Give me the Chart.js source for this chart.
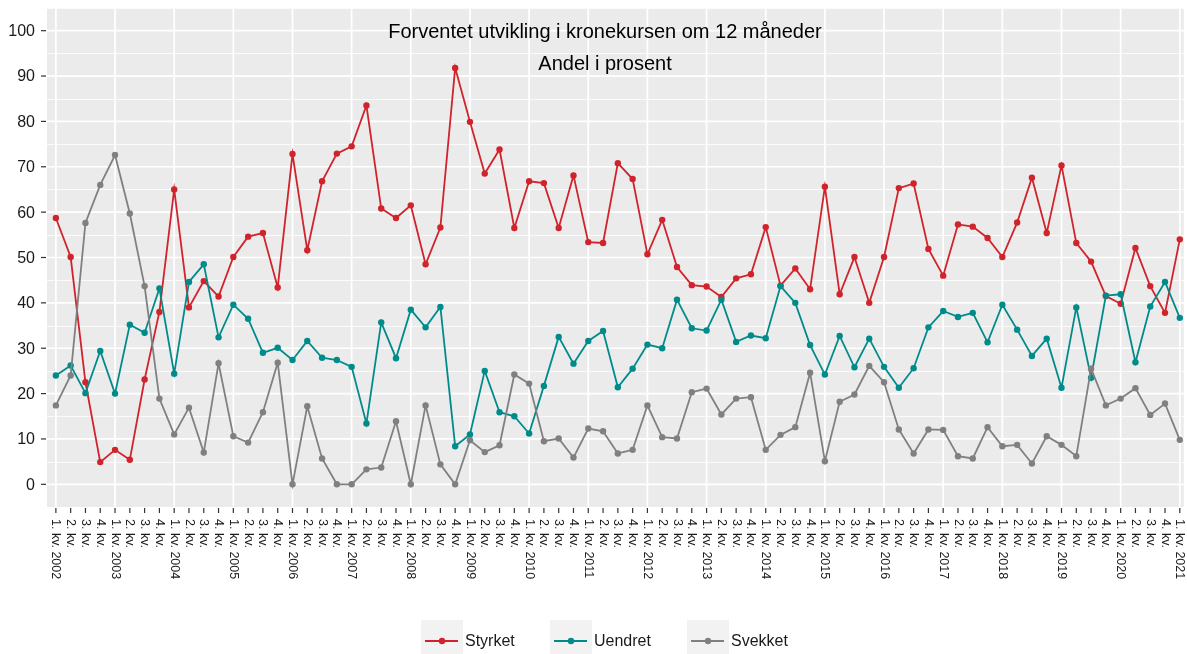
<!DOCTYPE html>
<html>
<head>
<meta charset="utf-8">
<script src="https://cdn.jsdelivr.net/npm/chart.js@4"></script>
<style>
  body { margin: 0; background: #ffffff; }
  canvas { display: block; }
</style>
</head>
<body>
<canvas id="grafKrone" width="1187" height="654"></canvas>
<script>
// kvartaler 1. kv. 2002 - 1. kv. 2021
const kvartaler = [];
for (let aar = 2002; aar <= 2021; aar++) {
  for (let k = 1; k <= 4; k++) {
    if (aar === 2021 && k > 1) break;
    kvartaler.push(k === 1 ? k + '. kv. ' + aar : k + '. kv.');
  }
}

const styrket = [58.7, 50.1, 22.5, 4.9, 7.6, 5.4, 23.1, 38.0, 65.0, 39.0, 44.8, 41.4, 50.1, 54.6, 55.4, 43.4, 72.8,
  51.6, 66.8, 72.9, 74.5, 83.5, 60.8, 58.7, 61.5, 48.5, 56.6, 91.8, 79.9, 68.5, 73.8, 56.5, 66.8, 66.4, 56.5, 68.1,
  53.4, 53.2, 70.8, 67.3, 50.7, 58.3, 47.9, 43.9, 43.6, 41.3, 45.4, 46.3, 56.7, 43.8, 47.6, 43.0, 65.6, 41.9, 50.1, 40.0,
  50.1, 65.3, 66.3, 51.9, 46.0, 57.3, 56.8, 54.3, 50.1, 57.7, 67.6, 55.4, 70.3, 53.2, 49.1, 41.5, 39.8, 52.1, 43.7, 37.8, 54.0];

const uendret = [24.0, 26.2, 20.1, 29.4, 20.0, 35.2, 33.4, 43.2, 24.4, 44.6, 48.5, 32.4, 39.6, 36.5, 29.0, 30.1, 27.4,
  31.6, 27.9, 27.4, 25.9, 13.4, 35.7, 27.8, 38.5, 34.6, 39.1, 8.4, 11.0, 25.0, 15.9, 15.0, 11.2, 21.7, 32.5, 26.6,
  31.6, 33.8, 21.4, 25.5, 30.8, 30.0, 40.7, 34.4, 33.9, 40.7, 31.4, 32.8, 32.2, 43.7, 40.0, 30.7, 24.2, 32.7, 25.8, 32.1,
  25.9, 21.3, 25.6, 34.6, 38.2, 36.9, 37.8, 31.3, 39.6, 34.1, 28.3, 32.1, 21.3, 39.0, 23.5, 41.6, 41.9, 26.9, 39.2, 44.6, 36.7];

const svekket = [17.4, 24.0, 57.6, 66.0, 72.6, 59.7, 43.7, 18.9, 11.0, 16.9, 7.0, 26.7, 10.6, 9.2, 15.9, 26.8, 0,
  17.2, 5.7, 0, 0, 3.3, 3.7, 13.9, 0, 17.4, 4.4, 0, 9.7, 7.1, 8.6, 24.2, 22.2, 9.5, 10.1, 5.9,
  12.3, 11.7, 6.8, 7.6, 17.4, 10.4, 10.1, 20.3, 21.1, 15.4, 18.9, 19.2, 7.6, 10.9, 12.6, 24.6, 5.1, 18.2, 19.8, 26.1,
  22.5, 12.1, 6.8, 12.1, 12.0, 6.2, 5.7, 12.6, 8.4, 8.7, 4.6, 10.6, 8.7, 6.2, 25.5, 17.4, 18.9, 21.2, 15.3, 17.8, 9.8];

const yTicks = [0, 10, 20, 30, 40, 50, 60, 70, 80, 90, 100];
const serier = ['Styrket', 'Uendret', 'Svekket'];
const farger = ['#d0232b', '#008b8b', '#808080'];

const fontFam = '"Liberation Sans", Arial, sans-serif';
const tekstFarge = '#1a1a1a';

function tilPunkter(arr) {
  return arr.map((v, i) => ({ x: i, y: v }));
}

// panel, rutenett, akser, tittel og forklaring
const ggPlugin = {
  id: 'ggPlugin',
  beforeDatasetsDraw(chart) {
    const { ctx, chartArea: a, scales: { x, y } } = chart;
    ctx.save();
    ctx.fillStyle = '#ebebeb';
    ctx.fillRect(a.left, a.top, a.right - a.left, a.bottom - a.top);
    ctx.strokeStyle = '#ffffff';
    // minor y
    ctx.lineWidth = 0.8;
    for (let v = -5; v <= 105; v += 10) {
      const py = Math.round(y.getPixelForValue(v)) + 0.5;
      if (py < a.top || py > a.bottom) continue;
      ctx.beginPath(); ctx.moveTo(a.left, py); ctx.lineTo(a.right, py); ctx.stroke();
    }
    // major y
    ctx.lineWidth = 1.7;
    yTicks.forEach(v => {
      const py = y.getPixelForValue(v);
      ctx.beginPath(); ctx.moveTo(a.left, py); ctx.lineTo(a.right, py); ctx.stroke();
    });
    // vertikale linjer ved hvert 1. kvartal
    kvartaler.forEach((lab, i) => {
      if (i % 4 !== 0) return;
      const px = x.getPixelForValue(i);
      ctx.beginPath(); ctx.moveTo(px, a.top); ctx.lineTo(px, a.bottom); ctx.stroke();
    });
    ctx.restore();
  },
  afterDraw(chart) {
    const { ctx, chartArea: a, scales: { x, y } } = chart;
    ctx.save();
    // y-akse
    ctx.strokeStyle = '#333333';
    ctx.lineWidth = 1.2;
    ctx.fillStyle = tekstFarge;
    ctx.font = '16px ' + fontFam;
    ctx.textAlign = 'right';
    ctx.textBaseline = 'middle';
    yTicks.forEach(v => {
      const py = y.getPixelForValue(v);
      ctx.beginPath(); ctx.moveTo(a.left - 6, py); ctx.lineTo(a.left - 1, py); ctx.stroke();
      ctx.fillText(String(v), a.left - 12, py + 1);
    });
    // x-akse
    ctx.font = '12.5px ' + fontFam;
    ctx.textAlign = 'left';
    kvartaler.forEach((lab, i) => {
      const px = x.getPixelForValue(i);
      ctx.beginPath(); ctx.moveTo(px, a.bottom + 1); ctx.lineTo(px, a.bottom + 6); ctx.stroke();
      ctx.save();
      ctx.translate(px, a.bottom + 12);
      ctx.rotate(Math.PI / 2);
      ctx.fillText(lab, 0, 0);
      ctx.restore();
    });
    // tittel
    ctx.fillStyle = '#000000';
    ctx.font = '20px ' + fontFam;
    ctx.textAlign = 'center';
    ctx.fillText('Forventet utvikling i kronekursen om 12 måneder', 605, 32);
    ctx.fillText('Andel i prosent', 605, 64);
    // forklaring
    const nokler = [421, 550, 687];
    ctx.font = '16px ' + fontFam;
    ctx.textAlign = 'left';
    serier.forEach((navn, k) => {
      const kx = nokler[k];
      ctx.fillStyle = '#f2f2f2';
      ctx.fillRect(kx, 620, 42, 34);
      ctx.strokeStyle = farger[k];
      ctx.lineWidth = 2;
      ctx.beginPath(); ctx.moveTo(kx + 4, 641); ctx.lineTo(kx + 37, 641); ctx.stroke();
      ctx.fillStyle = farger[k];
      ctx.beginPath(); ctx.arc(kx + 21, 641, 3.2, 0, Math.PI * 2); ctx.fill();
      ctx.fillStyle = tekstFarge;
      ctx.fillText(navn, kx + 44, 642);
    });
    ctx.restore();
  }
};

const serieData = [styrket, uendret, svekket];

new Chart(document.getElementById('grafKrone').getContext('2d'), {
  type: 'line',
  data: {
    datasets: serier.map((navn, k) => ({
      label: navn,
      data: tilPunkter(serieData[k]),
      borderColor: farger[k],
      backgroundColor: farger[k],
      borderWidth: 1.8,
      pointRadius: 3.2,
      pointBorderWidth: 0,
      pointHoverRadius: 3.2,
      tension: 0,
      order: 3 - k
    }))
  },
  options: {
    responsive: false,
    animation: false,
    devicePixelRatio: 1,
    layout: { padding: { left: 47, top: 8, right: 0, bottom: 147 } },
    scales: {
      x: { type: 'linear', min: -0.6, max: 76.27, display: false },
      y: { type: 'linear', min: -5, max: 105, display: false }
    },
    plugins: {
      legend: { display: false },
      tooltip: { enabled: false }
    }
  },
  plugins: [ggPlugin]
});
</script>
</body>
</html>
